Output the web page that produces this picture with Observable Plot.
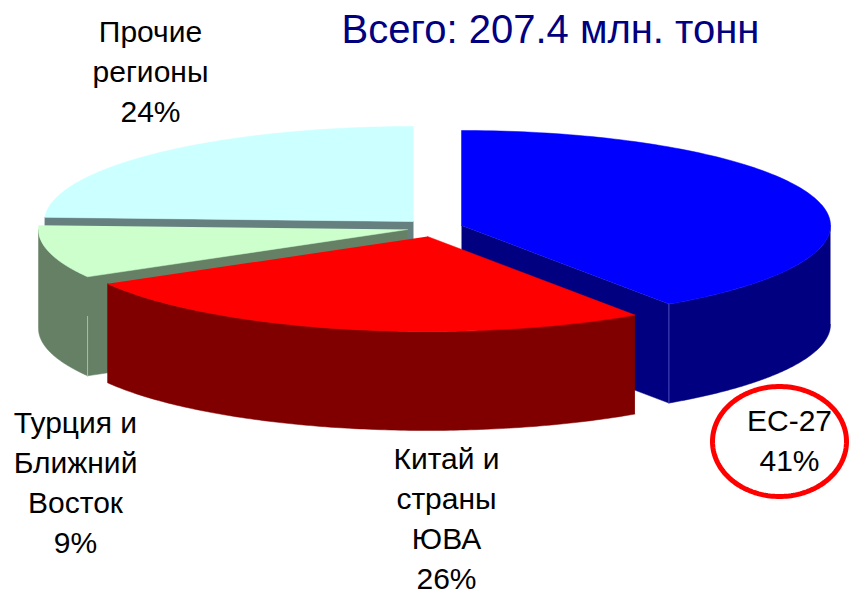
<!DOCTYPE html>
<html><head><meta charset="utf-8">
<script src="https://cdn.jsdelivr.net/npm/d3@7"></script>
<script src="https://cdn.jsdelivr.net/npm/@observablehq/plot@0.6"></script>
<style>html,body{margin:0;padding:0;background:#fff}svg{display:block}</style>
</head><body><div id="chart"></div>
<script>
// Data
const categories = ["ЕС-27", "Китай и страны ЮВА", "Турция и Ближний Восток", "Прочие регионы"];
const shares = [40.5, 26.2, 9.0, 24.3];
const labels = ["ЕС-27\n41%", "Китай и\nстраны\nЮВА\n26%", "Турция и\nБлижний\nВосток\n9%", "Прочие\nрегионы\n24%"];
const titleText = "Всего: 207.4 млн. тонн";

// Layout / styling
const topColors = ["#0000FF", "#FF0000", "#CCFFCC", "#CCFFFF"];
const wallColors = ["#000080", "#800000", "#668066", "#668080"];
const edgeColors = ["#4d4dc0", null, "#a9bca9", null];
const edgeFrom = [0, 0, 0.4, 0];
const centersX = [461, 427, 407, 413];
const centersY = [225, 236, 229, 221];
const labelX = [789, 446, 75, 150];
const labelY = [438, 516, 480, 69];
const drawOrder = [3, 0, 2, 1];
const RX = 369, RY = 95, DEPTH = 99;

// Slice angles (degrees clockwise from top)
const total = d3.sum(shares);
const bounds = d3.cumsum([0, ...shares]).map(v => v / total * 360);
const rim = (i, deg, dz = 0) => {
  const t = deg * Math.PI / 180;
  return {x: centersX[i] + RX * Math.sin(t), y: centersY[i] - RY * Math.cos(t) + dz};
};
const arcPts = (i, a, b, dz = 0) => d3.range(0, 121).map(k => rim(i, a + (b - a) * k / 120, dz));
const radialWall = (i, deg) => {
  const c = {x: centersX[i], y: centersY[i]};
  return [c, rim(i, deg), rim(i, deg, DEPTH), {x: c.x, y: c.y + DEPTH}];
};

const poly = (pts, color) => Plot.line(pts, {x: "x", y: "y", fill: color, stroke: color, strokeWidth: 0.5, curve: "linear"});

const marks = [];
for (const i of drawOrder) {
  const a = bounds[i], b = bounds[i + 1];
  // radial walls
  if (a > 180 && a < 360) marks.push(poly(radialWall(i, a), wallColors[i]));
  if (b > 0 && b < 180) marks.push(poly(radialWall(i, b), wallColors[i]));
  // outer wall: front half only
  const fa = Math.max(a, 90), fb = Math.min(b, 270);
  if (fb > fa) marks.push(poly([...arcPts(i, fa, fb), ...arcPts(i, fa, fb, DEPTH).reverse()], wallColors[i]));
  // top face
  marks.push(poly([{x: centersX[i], y: centersY[i]}, ...arcPts(i, a, b)], topColors[i]));
  // thin edge highlight at wall corner
  if (edgeColors[i]) {
    const deg = i === 0 ? b : a;
    marks.push(Plot.line([rim(i, deg, DEPTH * edgeFrom[i]), rim(i, deg, DEPTH)], {x: "x", y: "y", stroke: edgeColors[i], strokeWidth: 1}));
  }
}

// Highlight ring round the EU label
const ring = d3.range(0, 181).map(k => {
  const t = k / 180 * 2 * Math.PI;
  return {x: 779 + 67 * Math.cos(t), y: 441 + 55 * Math.sin(t)};
});
marks.push(Plot.line(ring, {x: "x", y: "y", stroke: "#FF0000", strokeWidth: 5}));

marks.push(Plot.text(categories.map((c, i) => ({c, label: labels[i], x: labelX[i], y: labelY[i]})), {
  x: "x", y: "y", text: "label", fill: "#000", fontSize: 30, lineHeight: 1.33,
  textAnchor: "middle", lineAnchor: "middle", fontFamily: "Liberation Sans"
}));
marks.push(Plot.text([titleText], {
  x: () => 550, y: () => 30, text: d => d, fill: "#000080", fontSize: 40,
  textAnchor: "middle", lineAnchor: "middle", fontFamily: "Liberation Sans"
}));

const chart = Plot.plot({
  width: 849, height: 590, margin: 0,
  x: {domain: [0, 849], range: [0, 849], axis: null},
  y: {domain: [0, 590], range: [0, 590], axis: null},
  style: {background: "#fff"},
  marks
});
document.getElementById("chart").append(chart);
</script></body></html>
